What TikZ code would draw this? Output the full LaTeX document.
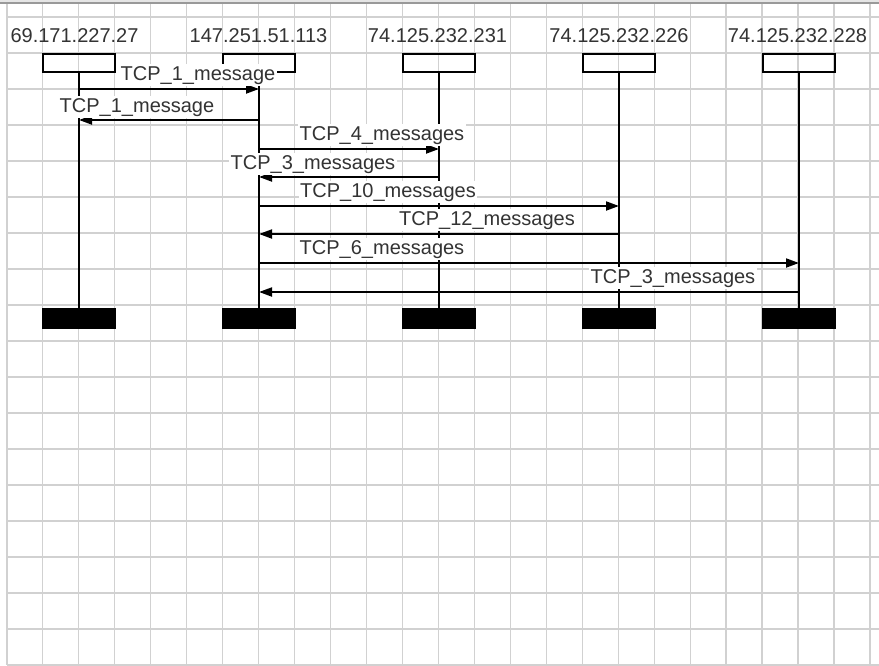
\documentclass[tikz,border=0pt]{standalone}
\usepackage{fontspec}
\setmainfont{Liberation Sans}
\usetikzlibrary{arrows.meta}
\begin{document}
\begin{tikzpicture}[x=1pt,y=-1pt,
  gridline/.style={draw=black!18, line width=1.3pt},
  headbox/.style={draw=black, line width=1.8pt, minimum width=72pt, minimum height=18pt, inner sep=0pt},
  endbox/.style={draw=black, fill=black, line width=0.5pt, minimum width=73pt, minimum height=20pt, inner sep=0pt},
  lifeline/.style={draw=black, line width=2pt},
  msg/.style={draw=black, line width=1.9pt, -{Triangle[length=13pt,width=9pt]}},
  hostlabel/.style={anchor=base, text=black!80, font=\fontsize{20}{24}\selectfont, inner sep=0pt},
  msglabel/.style={anchor=base, text=black!80, fill=white, font=\fontsize{20}{24}\selectfont, inner xsep=1.5pt, inner ysep=2pt}
]
\useasboundingbox (0,0) rectangle (879,665);
\fill[white] (0,0) rectangle (879,665);
% grid
\foreach \k in {0,...,23} {
  \draw[gridline] ({42.7+35.97*\k},3) -- ({42.7+35.97*\k},665);
}
\draw[gridline] (7,3) -- (7,665);
\foreach \k in {0,...,18} {
  \draw[gridline] (7,{17+36*\k}) -- (879,{17+36*\k});
}
\fill[black!10] (0,0) rectangle (879,3);
\draw[black!40, line width=1.5pt] (0,3) -- (879,3);

% host labels
\node[hostlabel] (t1) at (74.5,42) {69.171.227.27};
\node[hostlabel] (t2) at (258.5,42) {147.251.51.113};
\node[hostlabel] (t3) at (437.5,42) {74.125.232.231};
\node[hostlabel] (t4) at (619,42) {74.125.232.226};
\node[hostlabel] (t5) at (797.5,42) {74.125.232.228};

% head boxes
\node[headbox] (h1) at (79,63) {};
\node[headbox] (h2) at (259,63) {};
\node[headbox] (h3) at (439,63) {};
\node[headbox] (h4) at (619,63) {};
\node[headbox] (h5) at (799,63) {};

% end boxes
\node[endbox] (e1) at (79,318) {};
\node[endbox] (e2) at (259,318) {};
\node[endbox] (e3) at (439,318) {};
\node[endbox] (e4) at (619,318) {};
\node[endbox] (e5) at (799,318) {};

% lifelines
\foreach \i in {1,...,5} {
  \draw[lifeline] (h\i.south) -- (e\i.north);
}

% message end points
\coordinate (a1) at (79,89);   \coordinate (b1) at (259,89);
\coordinate (a2) at (259,120); \coordinate (b2) at (79,120);
\coordinate (a3) at (259,149); \coordinate (b3) at (439,149);
\coordinate (a4) at (439,177); \coordinate (b4) at (259,177);
\coordinate (a5) at (259,206); \coordinate (b5) at (619,206);
\coordinate (a6) at (619,234); \coordinate (b6) at (259,234);
\coordinate (a7) at (259,263); \coordinate (b7) at (799,263);
\coordinate (a8) at (799,292); \coordinate (b8) at (259,292);

\foreach \i in {1,...,8} {
  \draw[msg] (a\i) -- (b\i);
}

% message labels
\node[msglabel] (l1) at (198,80)  {TCP\_1\_message};
\node[msglabel] (l2) at (137,112) {TCP\_1\_message};
\node[msglabel] (l3) at (382,140) {TCP\_4\_messages};
\node[msglabel] (l4) at (313,169) {TCP\_3\_messages};
\node[msglabel] (l5) at (388,197) {TCP\_10\_messages};
\node[msglabel] (l6) at (487,225) {TCP\_12\_messages};
\node[msglabel] (l7) at (382,254) {TCP\_6\_messages};
\node[msglabel] (l8) at (673,283) {TCP\_3\_messages};
\end{tikzpicture}
\end{document}
